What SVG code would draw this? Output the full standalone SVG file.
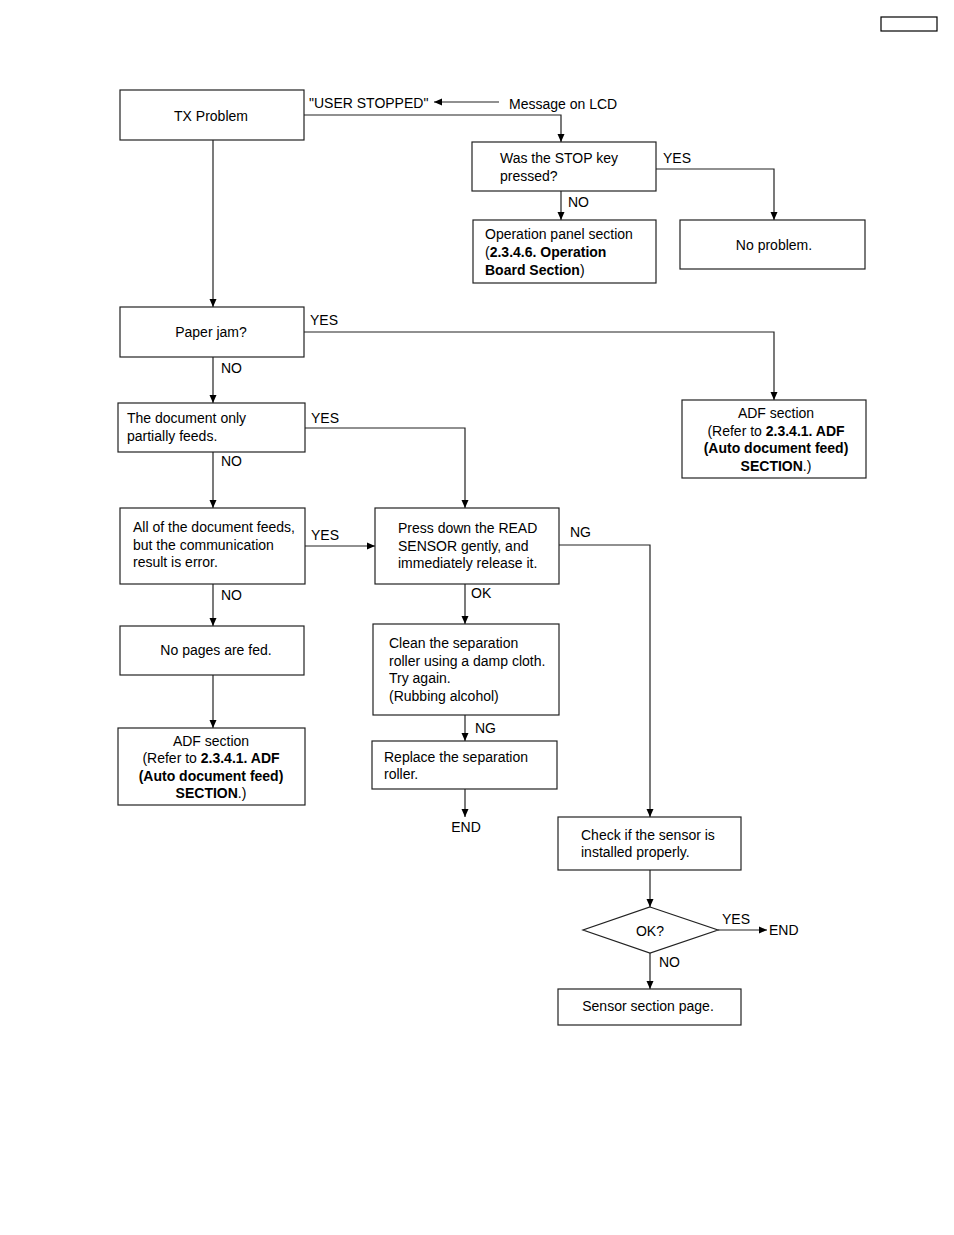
<svg xmlns="http://www.w3.org/2000/svg" width="954" height="1235" viewBox="0 0 954 1235">
<defs>
<marker id="ah" markerWidth="10" markerHeight="10" refX="8" refY="4" orient="auto" markerUnits="userSpaceOnUse">
<path d="M0,0.5 L8,4 L0,7.5 Z" fill="#000"/>
</marker>
<style>
.b{fill:#fff;stroke:#222;stroke-width:1.2}
.t{font-family:"Liberation Sans",Arial,sans-serif;font-size:14px;fill:#000}
.c{text-anchor:middle}
.bd{font-weight:bold}
.l{fill:none;stroke:#222;stroke-width:1.2}
.a{fill:none;stroke:#222;stroke-width:1.2;marker-end:url(#ah)}
</style>
</defs>
<rect width="954" height="1235" fill="#fff"/>
<rect x="881" y="17" width="56" height="14" fill="none" stroke="#000" stroke-width="1.2"/>

<g id="connectors">
<path class="a" d="M499,102 L434,102"/>
<path class="a" d="M304,115 L561,115 L561,142"/>
<path class="a" d="M656,169 L774,169 L774,220"/>
<path class="a" d="M561,191 L561,220"/>
<path class="a" d="M213,140 L213,307"/>
<path class="a" d="M304,332 L774,332 L774,400"/>
<path class="a" d="M213,357 L213,403"/>
<path class="a" d="M305,428 L465,428 L465,508"/>
<path class="a" d="M213,452 L213,508"/>
<path class="a" d="M305,546 L375,546"/>
<path class="a" d="M559,545 L650,545 L650,817"/>
<path class="a" d="M465,584 L465,624"/>
<path class="a" d="M465,715 L465,741"/>
<path class="a" d="M465,789 L465,817"/>
<path class="a" d="M213,584 L213,626"/>
<path class="a" d="M213,675 L213,728"/>
<path class="a" d="M650,870 L650,907"/>
<path class="a" d="M718,930 L767,930"/>
<path class="a" d="M650,953 L650,989"/>
</g>

<g id="labels">
<text class="t" x="309" y="108">"USER STOPPED"</text>
<text class="t" x="509" y="109">Message on LCD</text>
<text class="t" x="663" y="163">YES</text>
<text class="t" x="568" y="207">NO</text>
<text class="t" x="310" y="325">YES</text>
<text class="t" x="221" y="373">NO</text>
<text class="t" x="311" y="423">YES</text>
<text class="t" x="221" y="466">NO</text>
<text class="t" x="311" y="540">YES</text>
<text class="t" x="570" y="537">NG</text>
<text class="t" x="471" y="598">OK</text>
<text class="t" x="221" y="600">NO</text>
<text class="t" x="475" y="733">NG</text>
<text class="t c" x="466" y="832">END</text>
<text class="t" x="722" y="924">YES</text>
<text class="t" x="769" y="935">END</text>
<text class="t" x="659" y="967">NO</text>
</g>

<g id="tx">
<rect class="b" x="120" y="90" width="184" height="50"/>
<text class="t c" x="211" y="121">TX Problem</text>
</g>
<g id="stop">
<rect class="b" x="472" y="142" width="184" height="49"/>
<text class="t" x="500" y="163">Was the STOP key</text>
<text class="t" x="500" y="181">pressed?</text>
</g>
<g id="oppanel">
<rect class="b" x="473" y="220" width="183" height="63"/>
<text class="t" x="485" y="239">Operation panel section</text>
<text class="t" x="485" y="257">(<tspan class="bd">2.3.4.6. Operation</tspan></text>
<text class="t" x="485" y="275"><tspan class="bd">Board Section</tspan>)</text>
</g>
<g id="noproblem">
<rect class="b" x="680" y="220" width="185" height="49"/>
<text class="t c" x="774" y="250">No problem.</text>
</g>
<g id="paperjam">
<rect class="b" x="120" y="307" width="184" height="50"/>
<text class="t c" x="211" y="337">Paper jam?</text>
</g>
<g id="adf1">
<rect class="b" x="682" y="400" width="184" height="78"/>
<text class="t c" x="776" y="418">ADF section</text>
<text class="t c" x="776" y="436">(Refer to <tspan class="bd">2.3.4.1. ADF</tspan></text>
<text class="t c bd" x="776" y="453">(Auto document feed)</text>
<text class="t c" x="776" y="471"><tspan class="bd">SECTION</tspan>.)</text>
</g>
<g id="partial">
<rect class="b" x="118" y="403" width="187" height="49"/>
<text class="t" x="127" y="423">The document only</text>
<text class="t" x="127" y="441">partially feeds.</text>
</g>
<g id="allfeeds">
<rect class="b" x="120" y="508" width="185" height="76"/>
<text class="t" x="133" y="532">All of the document feeds,</text>
<text class="t" x="133" y="550">but the communication</text>
<text class="t" x="133" y="567">result is error.</text>
</g>
<g id="press">
<rect class="b" x="375" y="508" width="184" height="76"/>
<text class="t" x="398" y="533">Press down the READ</text>
<text class="t" x="398" y="551">SENSOR gently, and</text>
<text class="t" x="398" y="568">immediately release it.</text>
</g>
<g id="clean">
<rect class="b" x="373" y="624" width="186" height="91"/>
<text class="t" x="389" y="648">Clean the separation</text>
<text class="t" x="389" y="666">roller using a damp cloth.</text>
<text class="t" x="389" y="683">Try again.</text>
<text class="t" x="389" y="701">(Rubbing alcohol)</text>
</g>
<g id="replace">
<rect class="b" x="372" y="741" width="185" height="48"/>
<text class="t" x="384" y="762">Replace the separation</text>
<text class="t" x="384" y="779">roller.</text>
</g>
<g id="nopages">
<rect class="b" x="120" y="626" width="184" height="49"/>
<text class="t c" x="216" y="655">No pages are fed.</text>
</g>
<g id="adf2">
<rect class="b" x="118" y="728" width="187" height="77"/>
<text class="t c" x="211" y="746">ADF section</text>
<text class="t c" x="211" y="763">(Refer to <tspan class="bd">2.3.4.1. ADF</tspan></text>
<text class="t c bd" x="211" y="781">(Auto document feed)</text>
<text class="t c" x="211" y="798"><tspan class="bd">SECTION</tspan>.)</text>
</g>
<g id="check">
<rect class="b" x="558" y="817" width="183" height="53"/>
<text class="t" x="581" y="840">Check if the sensor is</text>
<text class="t" x="581" y="857">installed properly.</text>
</g>
<g id="ok">
<polygon class="b" points="650,907 718,930 650,953 583,930"/>
<text class="t c" x="650" y="936">OK?</text>
</g>
<g id="sensor">
<rect class="b" x="558" y="989" width="183" height="36"/>
<text class="t c" x="648" y="1011">Sensor section page.</text>
</g>
</svg>
